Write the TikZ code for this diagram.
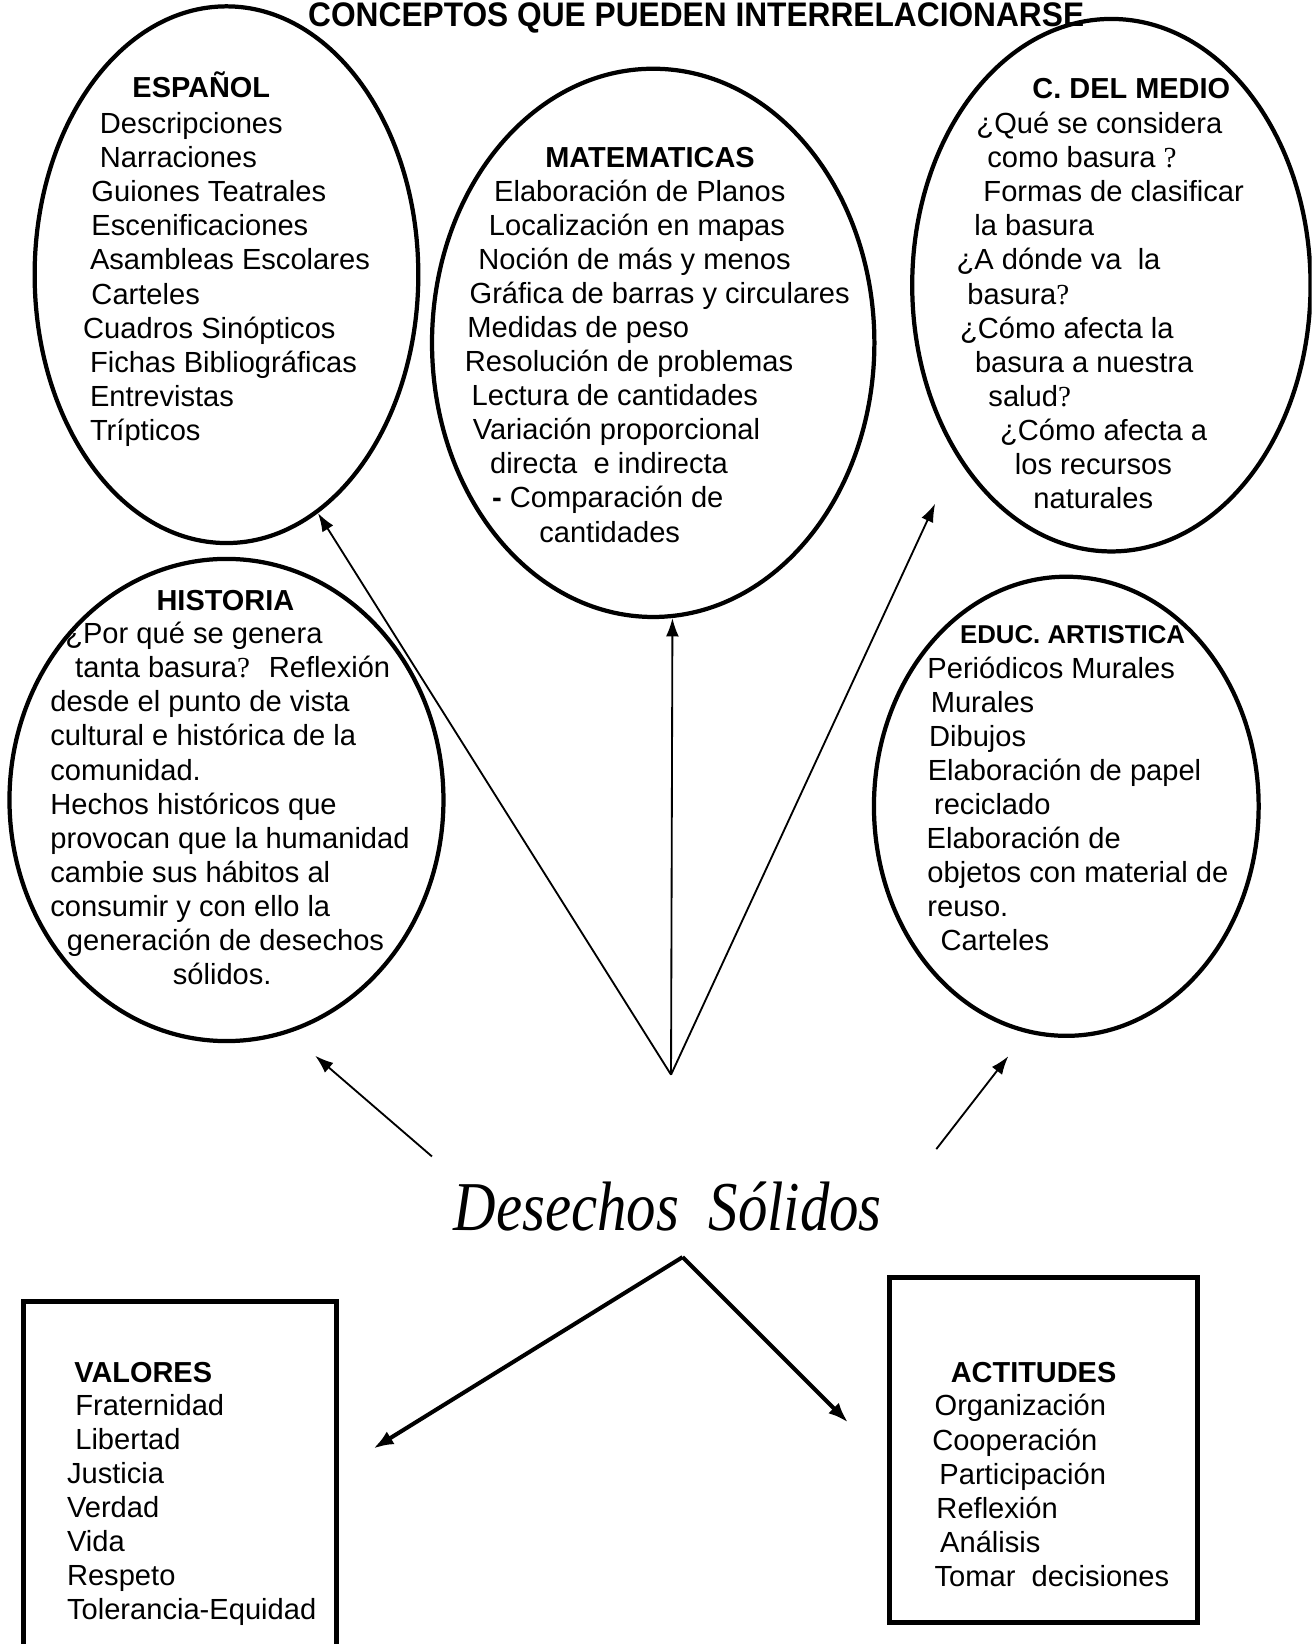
\documentclass[tikz,border=0pt]{standalone}
\usepackage{fontspec}
\usepackage{graphicx}
\setmainfont{Liberation Sans}
\newfontfamily\serifq{Liberation Serif}
\newcommand{\qm}{{\serifq ?}}
\usetikzlibrary{shapes,arrows.meta,positioning,calc}

\begin{document}
\begin{tikzpicture}[x=0.02cm, y=-0.02cm,
    area/.style={ellipse, draw, line width=2.3pt, inner sep=0pt},
    panel/.style={rectangle, draw, line width=2.7pt, inner sep=0pt},
    head/.style={font=\fontsize{15.7}{18.5}\selectfont\bfseries, inner sep=0pt},
    body/.style={font=\fontsize{15.8}{18.5}\selectfont, align=left, inner sep=0pt, anchor=base west},
    link/.style={-{Latex[length=10pt,width=7pt]}, line width=1pt},
    bold link/.style={-{Latex[length=11pt,width=8pt]}, line width=2.2pt}]

    % Page
    \fill[white] (0,0) rectangle (1251,1568);
    \clip (0,0) rectangle (1251,1568);

    % Title
    \node[anchor=base, inner sep=0pt, font=\fontsize{18.5}{20}\selectfont\bfseries] (title) at (664,25)
        {\scalebox{0.93}[1]{CONCEPTOS QUE PUEDEN INTERRELACIONARSE}};

    % Subject areas
    \node[area, minimum width=7.32cm, minimum height=10.24cm] (esp) at (216,262) {};
    \node[area, minimum width=8.44cm, minimum height=10.46cm] (mate) at (623,327) {};
    \node[area, minimum width=7.6cm, minimum height=10.16cm] (cdm) at (1060,272) {};
    \node[area, minimum width=8.28cm, minimum height=9.2cm] (hist) at (216,763) {};
    \node[area, minimum width=7.34cm, minimum height=8.76cm] (educ) at (1017,769) {};

    % Boxes
    \node[panel, minimum width=5.98cm, minimum height=7.18cm] (val) at (171.5,1420.5) {};
    \node[panel, minimum width=5.88cm, minimum height=6.57cm] (act) at (995,1383) {};

    % Headings
    \node[head, anchor=base] (esp-t) at (192,93) {ESPAÑOL};
    \node[head, anchor=base] (mate-t) at (620,160) {MATEMATICAS};
    \node[head, anchor=base] (cdm-t) at (1079,94) {C. DEL MEDIO};
    \node[head, anchor=base] (hist-t) at (215,582) {HISTORIA};
    \node[head, anchor=base, font=\fontsize{14}{16}\selectfont\bfseries] (educ-t) at (1023,614) {EDUC. ARTISTICA};
    \node[head, anchor=base west] (val-t) at (70.6,1319) {VALORES};
    \node[head, anchor=base west] (act-t) at (906.5,1319) {ACTITUDES};

    % Contents (placed by the baseline of their last line)
    \node[body] (esp-b) at (79,420) {\hspace*{9.1pt}Descripciones\\
        \hspace*{9.1pt}Narraciones\\ \hspace*{4.5pt}Guiones Teatrales\\
        \hspace*{4.5pt}Escenificaciones\\ \hspace*{3.7pt}Asambleas Escolares\\
        \hspace*{4.5pt}Carteles\\ Cuadros Sinópticos\\
        \hspace*{3.7pt}Fichas Bibliográficas\\ \hspace*{3.7pt}Entrevistas\\
        \hspace*{3.7pt}Trípticos};
    \node[body] (mate-b) at (443,517) {\hspace*{15.9pt}Elaboración de Planos\\
        \hspace*{13.1pt}Localización en mapas\\ \hspace*{7.4pt}Noción de más y menos\\
        \hspace*{2.6pt}Gráfica de barras y circulares\\ \hspace*{1.4pt}Medidas de peso\\
        Resolución de problemas\\ \hspace*{3.7pt}Lectura de cantidades\\
        \hspace*{4.3pt}Variación proporcional\\ \hspace*{13.7pt}directa~ e indirecta\\
        \hspace*{14.8pt}\textbf{-} Comparación de\\ \hspace*{40.4pt}cantidades};
    \node[body] (cdm-b) at (912,485) {\hspace*{10.8pt}¿Qué se considera\\
        \hspace*{16.7pt}como basura \qm\\ \hspace*{14.6pt}Formas de clasificar\\
        \hspace*{9.7pt}la basura\\ ¿A dónde va~ la\\ \hspace*{5.9pt}basura\qm\\
        \hspace*{1.9pt}¿Cómo afecta la\\ \hspace*{10pt}basura a nuestra\\
        \hspace*{17.3pt}salud\qm\\ \hspace*{23.6pt}¿Cómo afecta a\\
        \hspace*{31.7pt}los recursos\\ \hspace*{41.7pt}naturales};
    \node[body] (hist-b) at (47.7,939) {\hspace*{8.1pt}¿Por qué se genera\\
        \hspace*{13.5pt}tanta basura\qm~ Reflexión\\ desde el punto de vista\\
        cultural e histórica de la\\ comunidad.\\ Hechos históricos que\\
        provocan que la humanidad\\ cambie sus hábitos al\\
        consumir y con ello la\\ \hspace*{9pt}generación de desechos\\
        \hspace*{66.5pt}sólidos.};
    \node[body] (educ-b) at (883.5,907) {\hspace*{0.4pt}Periódicos Murales\\
        \hspace*{2.2pt}Murales\\ \hspace*{1.3pt}Dibujos\\
        \hspace*{0.6pt}Elaboración de papel\\ \hspace*{4pt}reciclado\\
        Elaboración de\\ \hspace*{0.4pt}objetos con material de\\
        \hspace*{0.4pt}reuso.\\ \hspace*{7.6pt}Carteles};
    \node[body] (val-b) at (63.6,1545) {\hspace*{4.5pt}Fraternidad\\
        \hspace*{4.5pt}Libertad\\ Justicia\\ Verdad\\ Vida\\ Respeto\\
        Tolerancia-Equidad};
    \node[body] (act-b) at (888.8,1513) {\hspace*{1.3pt}Organización\\
        Cooperación\\ \hspace*{3.9pt}Participación\\ \hspace*{2.3pt}Reflexión\\
        \hspace*{4.3pt}Análisis\\ \hspace*{1.3pt}Tomar~ decisiones};

    % Centre
    \node[anchor=base, inner sep=0pt, font=\serifq\itshape\fontsize{38}{42}\selectfont] (ds) at (637,1174)
        {\scalebox{0.84}[1]{Desechos~ Sólidos}};

    % Arrow starts
    \coordinate (hub) at (640,1025);
    \coordinate (hleft) at (412,1103);
    \coordinate (hright) at (893,1096);
    \coordinate (apex) at (651,1199);

    % Arrows
    \draw[link] (hub) -- (esp.-69);
    \draw[link] (hub) -- (mate.-86);
    \draw[link, shorten >=0.98cm] (hub) -- (cdm.-132);
    \draw[link, shorten >=0.66cm] (hleft) -- (hist.-75);
    \draw[link, shorten >=0.56cm] (hright) -- (educ.-100);
    \draw[bold link, shorten >=0.77cm] (apex) -- (val.7);
    \draw[bold link, shorten >=1.04cm] (apex) -- (act.184);
\end{tikzpicture}
\end{document}
